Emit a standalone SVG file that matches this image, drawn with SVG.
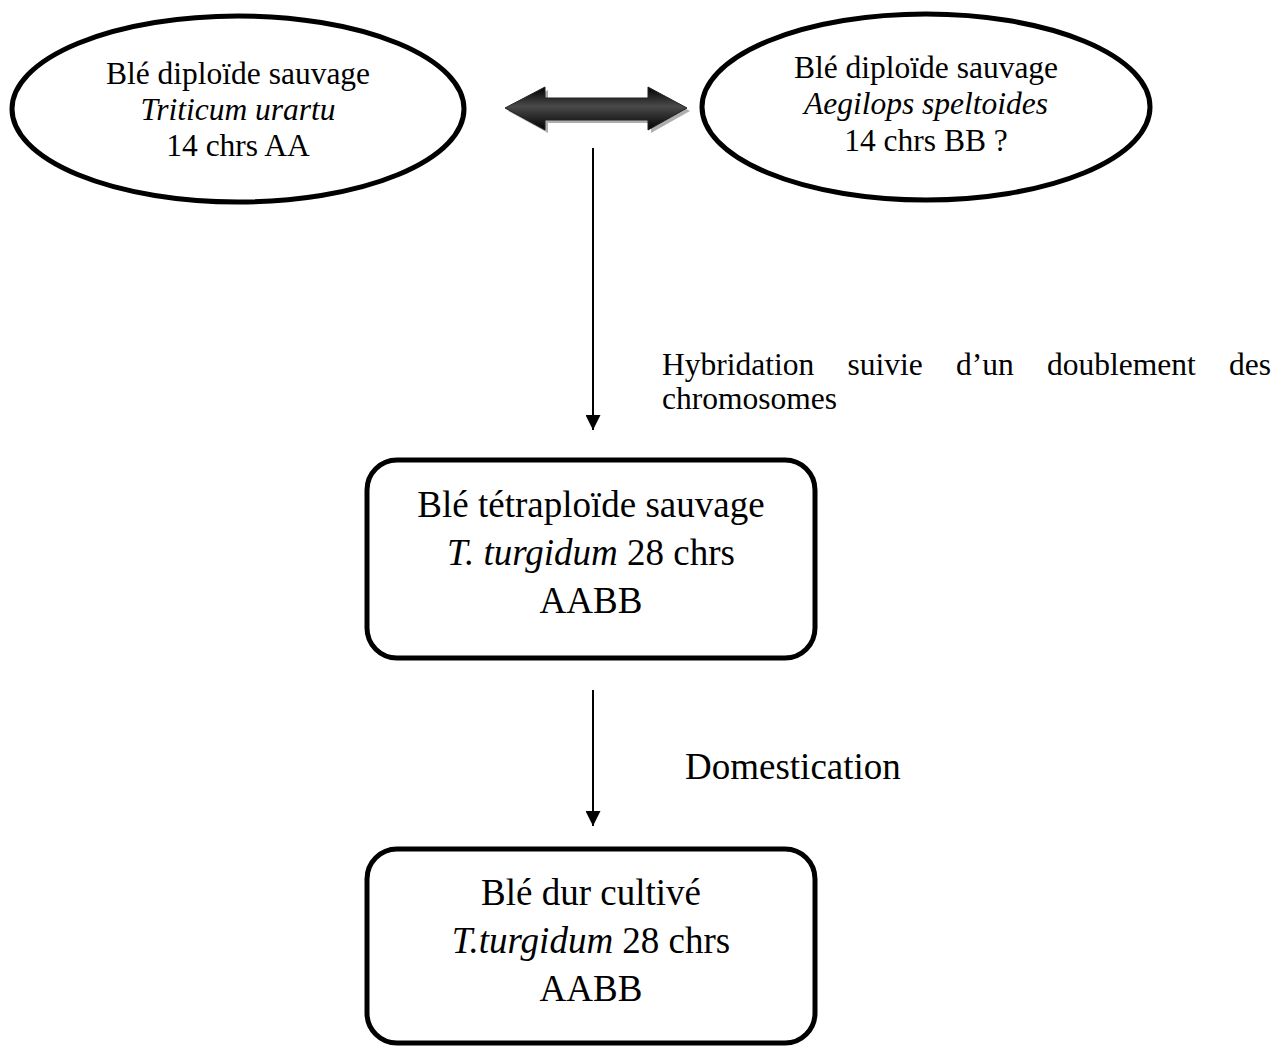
<svg xmlns="http://www.w3.org/2000/svg" width="1282" height="1048" viewBox="0 0 1282 1048">
<style>
text{font-family:"Liberation Serif","Times New Roman",serif;fill:#000}
.s{font-size:31.5px}
.b{font-size:37px}
.i{font-style:italic}
.node{fill:#fff;stroke:#000;stroke-width:5}
.conn{stroke:#000;stroke-width:2;fill:none}
</style>
<defs>
<marker id="ah" viewBox="0 0 10 10" refX="10" refY="5" markerWidth="7.5" markerHeight="7.5" markerUnits="strokeWidth" orient="auto">
<path d="M0,0 L10,5 L0,10 Z" fill="#000"/>
</marker>
<linearGradient id="dg" x1="0" y1="0" x2="0" y2="1">
<stop offset="0" stop-color="#000"/>
<stop offset="0.45" stop-color="#4a4a4a"/>
<stop offset="1" stop-color="#000"/>
</linearGradient>
</defs>
<g id="n1">
<ellipse class="node" cx="238" cy="109" rx="226" ry="93"/>
<text class="s" x="238" y="84" text-anchor="middle">Blé diploïde sauvage</text>
<text class="s i" x="238" y="120" text-anchor="middle">Triticum urartu</text>
<text class="s" x="238" y="156" text-anchor="middle">14 chrs AA</text>
</g>
<g id="n2">
<ellipse class="node" cx="926" cy="107" rx="224" ry="93"/>
<text class="s" x="926" y="78" text-anchor="middle">Blé diploïde sauvage</text>
<text class="s i" x="926" y="114" text-anchor="middle">Aegilops speltoides</text>
<text class="s" x="926" y="151" text-anchor="middle">14 chrs BB ?</text>
</g>
<g id="n3">
<rect class="node" x="367" y="460" width="448" height="198" rx="30"/>
<text class="b" x="591" y="517" text-anchor="middle">Blé tétraploïde sauvage</text>
<text class="b" x="591" y="565" text-anchor="middle"><tspan class="i">T. turgidum</tspan> 28 chrs</text>
<text class="b" x="591" y="613" text-anchor="middle">AABB</text>
</g>
<g id="n4">
<rect class="node" x="367" y="849" width="448" height="194" rx="30"/>
<text class="b" x="591" y="905" text-anchor="middle">Blé dur cultivé</text>
<text class="b" x="591" y="953" text-anchor="middle"><tspan class="i">T.turgidum</tspan> 28 chrs</text>
<text class="b" x="591" y="1001" text-anchor="middle">AABB</text>
</g>
<g id="connectors">
<polygon points="508,111 548,90 548,101 651,101 651,90 690,111 651,133 651,123 548,123 548,133" fill="#9a9a9a" opacity="0.8"/>
<polygon points="505,108 545,87 545,98 648,98 648,87 687,108 648,130 648,120 545,120 545,130" fill="url(#dg)" stroke="#222" stroke-width="1"/>
<line class="conn" x1="593" y1="148" x2="593" y2="430" marker-end="url(#ah)"/>
<line class="conn" x1="593" y1="690" x2="593" y2="826" marker-end="url(#ah)"/>
<g class="s">
<text class="s" x="662" y="375">Hybridation</text>
<text class="s" x="847.5" y="375">suivie</text>
<text class="s" x="956" y="375">d’un</text>
<text class="s" x="1047" y="375">doublement</text>
<text class="s" x="1229" y="375">des</text>
<text class="s" x="662" y="409">chromosomes</text>
</g>
<text class="b" x="685" y="779">Domestication</text>
</g>
</svg>
